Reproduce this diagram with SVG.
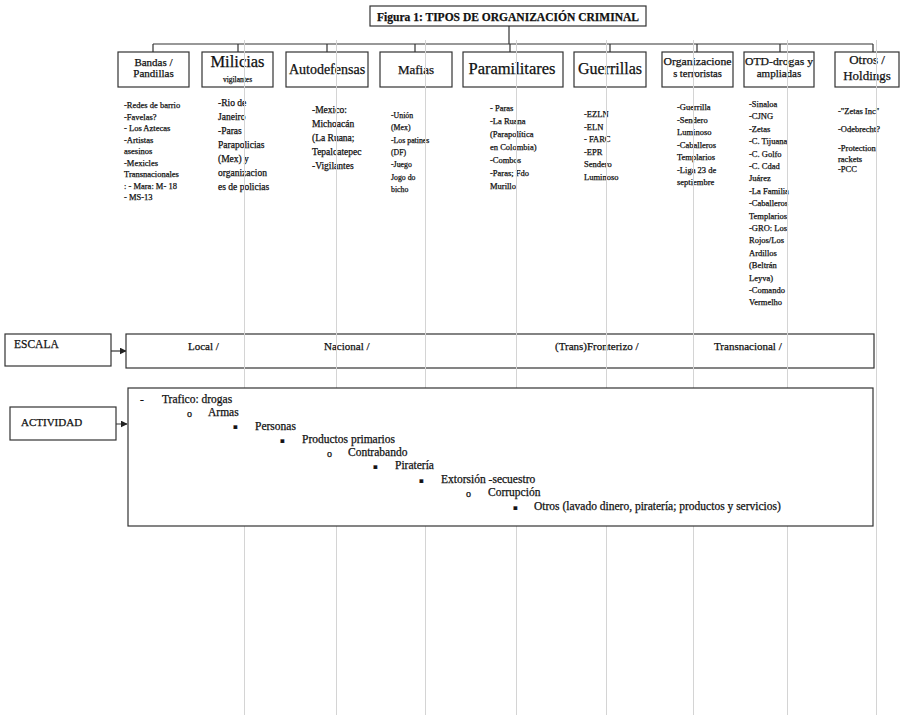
<svg xmlns="http://www.w3.org/2000/svg" width="907" height="715" viewBox="0 0 907 715">
<style>
.bx{fill:#fff;stroke:#333;stroke-width:1.2}
.ln{fill:none;stroke:#333;stroke-width:1.2}
.g{stroke:#d4d4d4;stroke-width:1}
text{font-family:"Liberation Serif","Times New Roman",serif;fill:#111;stroke:#111;stroke-width:0.25}
.h{text-anchor:middle}
.c{font-size:8.5px}
.c9{font-size:9.5px}
.c7{font-size:7.8px}
.e{font-size:11px}
.l{font-size:11.5px}
.sq{font-family:"DejaVu Sans",sans-serif;font-size:7px}
</style>
<defs>
<marker id="ar" viewBox="0 0 10 10" refX="9" refY="5" markerWidth="7" markerHeight="7" orient="auto" markerUnits="userSpaceOnUse"><path d="M0,0 L10,5 L0,10 z" fill="#222"/></marker>
</defs>
<rect width="907" height="715" fill="#fff"/>

<g id="title">
<rect class="bx" x="370" y="6" width="276" height="20"/>
<text x="508" y="21" class="h" font-size="12" font-weight="bold" textLength="262" lengthAdjust="spacingAndGlyphs">Figura 1: TIPOS DE ORGANIZACIÓN CRIMINAL</text>
</g>

<g id="connectors">
<path class="ln" d="M509,26 V44 M153,44 H873 M153,44 V52 M238,44 V52 M327,44 V52 M415,44 V52 M510,44 V52 M610,44 V52 M697,44 V52 M780,44 V52 M873,44 V52"/>
<path class="ln" d="M111,351 H126" marker-end="url(#ar)"/>
<path class="ln" d="M97,430 H113 V424 H127" marker-end="url(#ar)"/>
</g>

<g id="bandas">
<rect class="bx" x="118" y="52" width="71" height="35"/>
<text x="153.5" y="66" class="h" font-size="11">Bandas /</text>
<text x="153.5" y="77" class="h" font-size="11">Pandillas</text>
<g class="c">
<text x="124" y="108">-Redes de barrio</text>
<text x="124" y="119.5">-Favelas?</text>
<text x="124" y="131">- Los Aztecas</text>
<text x="124" y="142.5">-Artistas</text>
<text x="124" y="154">asesinos</text>
<text x="124" y="165.5">-Mexicles</text>
<text x="124" y="177">Transnacionales</text>
<text x="124" y="188.5">: - Mara: M- 18</text>
<text x="124" y="200">- MS-13</text>
</g>
</g>

<g id="milicias">
<rect class="bx" x="202" y="52" width="71" height="35"/>
<text x="237.5" y="67" class="h" font-size="16.5">Milicias</text>
<text x="237.5" y="82" class="h" font-size="7.5">vigilantes</text>
<g class="c9">
<text x="218" y="106">-Rio de</text>
<text x="218" y="120">Janeiro</text>
<text x="218" y="134">-Paras</text>
<text x="218" y="148">Parapolicias</text>
<text x="218" y="162">(Mex) y</text>
<text x="218" y="176">organizacion</text>
<text x="218" y="190">es de policias</text>
</g>
</g>

<g id="autodefensas">
<rect class="bx" x="286" y="52" width="82" height="35"/>
<text x="327" y="74" class="h" font-size="14">Autodefensas</text>
<g class="c9">
<text x="312" y="113">-Mexico:</text>
<text x="312" y="127">Michoacán</text>
<text x="312" y="141">(La Ruana;</text>
<text x="312" y="155">Tepalcatepec</text>
<text x="312" y="169">-Vigilantes</text>
</g>
</g>

<g id="mafias">
<rect class="bx" x="380" y="52" width="72" height="35"/>
<text x="416" y="74" class="h" font-size="13">Mafias</text>
<g class="c7">
<text x="391" y="118">-Unión</text>
<text x="391" y="130">(Mex)</text>
<text x="391" y="142.5">-Los patines</text>
<text x="391" y="155">(DF)</text>
<text x="391" y="167">-Juego</text>
<text x="391" y="179.5">Jogo do</text>
<text x="391" y="192">bicho</text>
</g>
</g>

<g id="paramilitares">
<rect class="bx" x="463" y="52" width="100" height="35"/>
<text x="512" y="74" class="h" font-size="16.5">Paramilitares</text>
<g class="c">
<text x="490" y="111">- Paras</text>
<text x="490" y="124">-La Ruana</text>
<text x="490" y="137">(Parapolítica</text>
<text x="490" y="150">en Colombia)</text>
<text x="490" y="163">-Combos</text>
<text x="490" y="176">-Paras; Fdo</text>
<text x="490" y="189">Murillo</text>
</g>
</g>

<g id="guerrillas">
<rect class="bx" x="574" y="52" width="72" height="35"/>
<text x="610" y="74" class="h" font-size="16">Guerrillas</text>
<g class="c">
<text x="584" y="117">-EZLN</text>
<text x="584" y="129.5">-ELN</text>
<text x="584" y="142">- FARC</text>
<text x="584" y="154.5">-EPR</text>
<text x="584" y="167">Sendero</text>
<text x="584" y="179.5">Luminoso</text>
</g>
</g>

<g id="terroristas">
<rect class="bx" x="662" y="52" width="71" height="35"/>
<text x="697.5" y="65" class="h" font-size="10.5" textLength="68" lengthAdjust="spacingAndGlyphs">Organizacione</text>
<text x="697.5" y="77" class="h" font-size="10.5">s terroristas</text>
<g class="c">
<text x="677" y="110">-Guerrilla</text>
<text x="677" y="122.5">-Sendero</text>
<text x="677" y="135">Luminoso</text>
<text x="677" y="147.5">-Caballeros</text>
<text x="677" y="160">Templarios</text>
<text x="677" y="172.5">-Liga 23 de</text>
<text x="677" y="185">septiembre</text>
</g>
</g>

<g id="otd">
<rect class="bx" x="744" y="52" width="70" height="35"/>
<text x="779" y="65" class="h" font-size="11" textLength="68" lengthAdjust="spacingAndGlyphs">OTD-drogas y</text>
<text x="779" y="77" class="h" font-size="11">ampliadas</text>
<g class="c">
<text x="749" y="107">-Sinaloa</text>
<text x="749" y="119.4">-CJNG</text>
<text x="749" y="131.8">-Zetas</text>
<text x="749" y="144.2">-C. Tijuana</text>
<text x="749" y="156.6">-C. Golfo</text>
<text x="749" y="169">-C. Cdad</text>
<text x="749" y="181.4">Juárez</text>
<text x="749" y="193.8">-La Familia</text>
<text x="749" y="206.2">-Caballeros</text>
<text x="749" y="218.6">Templarios</text>
<text x="749" y="231">-GRO: Los</text>
<text x="749" y="243.4">Rojos/Los</text>
<text x="749" y="255.8">Ardillos</text>
<text x="749" y="268.2">(Beltrán</text>
<text x="749" y="280.6">Leyva)</text>
<text x="749" y="293">-Comando</text>
<text x="749" y="305.4">Vermelho</text>
</g>
</g>

<g id="otros">
<rect class="bx" x="835" y="52" width="64" height="35"/>
<text x="867" y="64" class="h" font-size="13">Otros /</text>
<text x="867" y="80" class="h" font-size="13">Holdings</text>
<g class="c">
<text x="838" y="114">-"Zetas Inc"</text>
<text x="838" y="132">-Odebrecht?</text>
<text x="838" y="151">-Protection</text>
<text x="838" y="161.5">rackets</text>
<text x="838" y="172">-PCC</text>
</g>
</g>

<g id="escala">
<rect class="bx" x="5" y="334" width="106" height="32"/>
<text x="14" y="348" class="l">ESCALA</text>
</g>
<g id="escala-valores">
<rect class="bx" x="126" y="334" width="748" height="34"/>
<text x="188" y="350" class="e">Local /</text>
<text x="324" y="350" class="e">Nacional /</text>
<text x="555" y="350" class="e">(Trans)Fronterizo /</text>
<text x="714" y="350" class="e">Transnacional /</text>
</g>

<g id="gridlines">
<path class="g" d="M244.5,40 V715 M336.5,40 V715 M425.5,40 V715 M516.5,40 V715 M606.5,40 V715 M693.5,40 V715 M787.5,40 V715 M876.5,40 V715"/>
</g>

<g id="actividad">
<rect class="bx" x="10" y="407" width="106" height="33"/>
<text x="21" y="426" class="e">ACTIVIDAD</text>
</g>
<g id="actividad-lista">
<rect class="bx" x="128" y="388" width="745" height="138"/>
<g class="l">
<text x="140" y="403">-</text><text x="162" y="403">Trafico: drogas</text>
<text x="187" y="417" font-size="10">o</text><text x="208" y="416">Armas</text>
<text x="233" y="429" class="sq">▪</text><text x="255" y="430">Personas</text>
<text x="280" y="443" class="sq">▪</text><text x="302" y="443">Productos primarios</text>
<text x="327" y="457" font-size="10">o</text><text x="348" y="456">Contrabando</text>
<text x="373" y="469" class="sq">▪</text><text x="395" y="469">Piratería</text>
<text x="419" y="483" class="sq">▪</text><text x="441" y="483">Extorsión -secuestro</text>
<text x="466" y="497" font-size="10">o</text><text x="488" y="496">Corrupción</text>
<text x="513" y="510" class="sq">▪</text><text x="534" y="510">Otros (lavado dinero, piratería; productos y servicios)</text>
</g>
</g>
</svg>
